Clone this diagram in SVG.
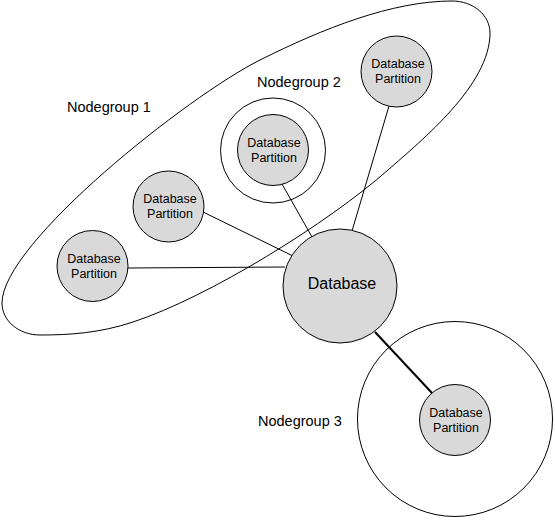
<svg xmlns="http://www.w3.org/2000/svg" width="555" height="520" viewBox="0 0 555 520">
<style>
.grp{fill:none;stroke:#000;stroke-width:1}
.con{stroke:#000;stroke-width:1;fill:none}
.thick{stroke-width:2}
.node{fill:#d9d9d9;stroke:#000;stroke-width:1}
.lbl{font-family:"Liberation Sans",Arial,sans-serif;font-size:14.5px;fill:#000}
.pt{font-family:"Liberation Sans",Arial,sans-serif;font-size:12.5px;fill:#000;text-anchor:middle}
.db{font-family:"Liberation Sans",Arial,sans-serif;font-size:16px;fill:#000;text-anchor:middle}
</style>
<rect width="555" height="520" fill="#fff"/>
<g id="nodegroup1">
<path class="grp" d="M452,1 C473,1 490,15 490,33 C490,85 422,140 388,170 C328,223 209,297 133,322 C100,333 70,335 40,335 C19,335 2,321 2,303 C2,243 188.5,95.8 260,60 C322.6,28.7 392,1 452,1 Z"/>
<text class="lbl" x="67" y="112">Nodegroup 1</text>
</g>
<g id="nodegroup2">
<circle class="grp" cx="273" cy="150.5" r="52.5"/>
<text class="lbl" x="257" y="87">Nodegroup 2</text>
</g>
<g id="nodegroup3">
<circle class="grp" cx="455" cy="419" r="97.5"/>
<text class="lbl" x="258" y="426">Nodegroup 3</text>
</g>
<g id="connectors">
<line class="con" x1="389" y1="106" x2="352" y2="231"/>
<line class="con" x1="282" y1="184" x2="312" y2="237"/>
<line class="con" x1="203" y1="212" x2="293" y2="256"/>
<line class="con" x1="128" y1="268" x2="285" y2="267"/>
<line class="con thick" x1="375" y1="332" x2="432" y2="393"/>
</g>
<g id="partition-top">
<circle class="node" cx="396.5" cy="71.5" r="35.5"/>
<text class="pt" x="398" y="68">Database</text>
<text class="pt" x="398" y="83">Partition</text>
</g>
<g id="partition-ng2">
<circle class="node" cx="273" cy="150" r="35.5"/>
<text class="pt" x="274" y="146.5">Database</text>
<text class="pt" x="274" y="161.5">Partition</text>
</g>
<g id="partition-mid">
<circle class="node" cx="168.5" cy="206.5" r="35.5"/>
<text class="pt" x="170" y="203">Database</text>
<text class="pt" x="170" y="218">Partition</text>
</g>
<g id="partition-left">
<circle class="node" cx="92.5" cy="266" r="35.5"/>
<text class="pt" x="94" y="262.5">Database</text>
<text class="pt" x="94" y="277.5">Partition</text>
</g>
<g id="database">
<circle class="node" cx="340" cy="286" r="57"/>
<text class="db" x="342" y="289">Database</text>
</g>
<g id="partition-ng3">
<circle class="node" cx="455" cy="420" r="35.5"/>
<text class="pt" x="456" y="417">Database</text>
<text class="pt" x="456" y="432">Partition</text>
</g>
</svg>
